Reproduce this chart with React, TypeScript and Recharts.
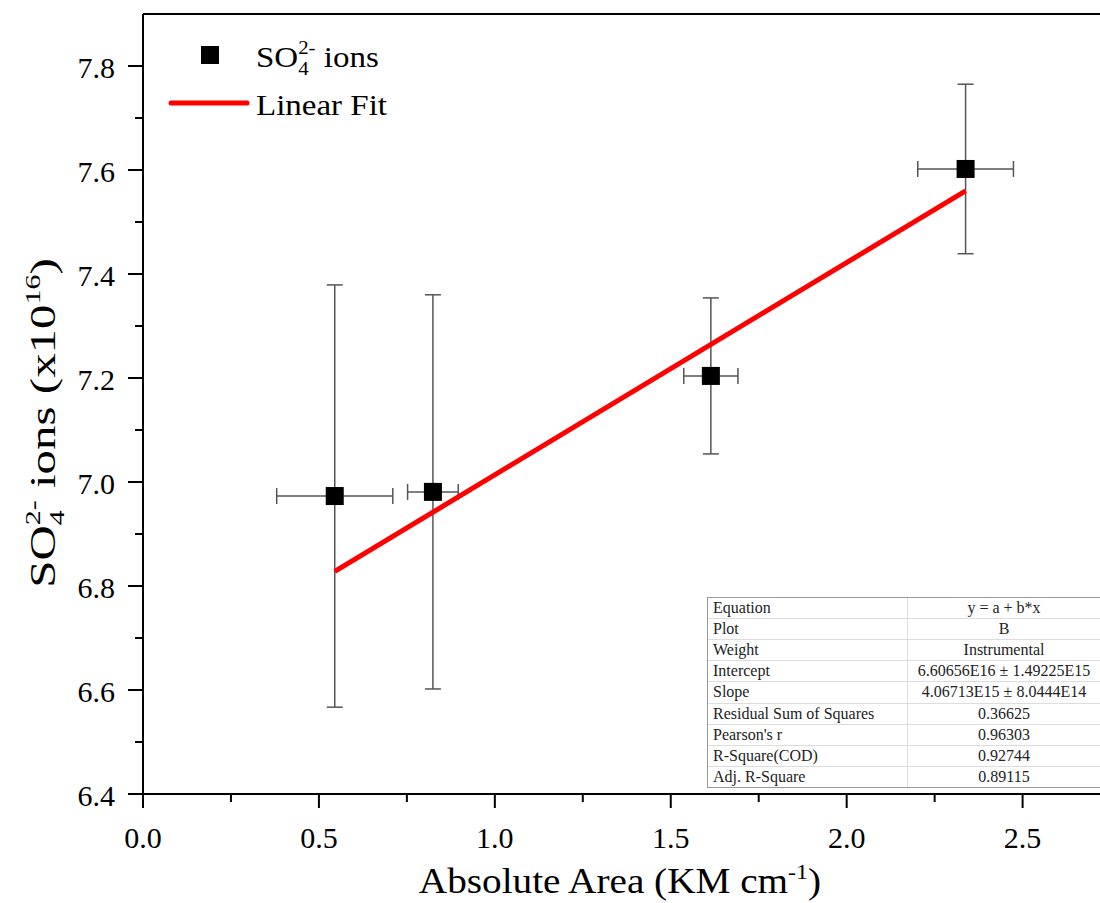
import React from 'react';
import { ScatterChart, Scatter, XAxis, YAxis, ErrorBar, ReferenceLine, Customized } from 'recharts';

// measured points (x = absolute area, y = ions x10^16)
const areaX = [0.545, 0.824, 1.614, 2.338];
const ionsY = [6.973, 6.981, 7.204, 7.602];
const areaErr = [0.165, 0.072, 0.077, 0.136];
const ionsErr = [0.406, 0.379, 0.15, 0.163];

// linear fit end points
const fitX = [0.545, 2.338];
const fitY = [6.828, 7.56];

const xMajor = [0, 0.5, 1, 1.5, 2, 2.5];
const xMinor = [0.25, 0.75, 1.25, 1.75, 2.25];
const yMajor = [6.4, 6.6, 6.8, 7.0, 7.2, 7.4, 7.6, 7.8];
const yMinor = [6.5, 6.7, 6.9, 7.1, 7.3, 7.5, 7.7];

const statNames = [
  'Equation',
  'Plot',
  'Weight',
  'Intercept',
  'Slope',
  'Residual Sum of Squares',
  "Pearson's r",
  'R-Square(COD)',
  'Adj. R-Square',
];
const statValues = [
  'y = a + b*x',
  'B',
  'Instrumental',
  '6.60656E16 ± 1.49225E15',
  '4.06713E15 ± 8.0444E14',
  '0.36625',
  '0.96303',
  '0.92744',
  '0.89115',
];

const FONT = '"Liberation Serif", "Times New Roman", serif';

const points = areaX.map((x, i) => ({ x, y: ionsY[i], ex: areaErr[i], ey: ionsErr[i] }));
const fitLine = fitX.map((x, i) => ({ x, y: fitY[i] }));

const xTicks = [...xMajor, ...xMinor].sort((a, b) => a - b);
const yTicks = [...yMajor, ...yMinor].sort((a, b) => a - b);

const XTick = (props: any) => {
  const { x, y, payload } = props;
  const major = xMajor.includes(payload.value);
  return (
    <g>
      <line x1={x} y1={y} x2={x} y2={y + (major ? 14 : 8)} stroke="#000" strokeWidth={2} />
      {major && (
        <text x={x} y={y + 43} textAnchor="middle" dominantBaseline="central" fontSize={30} fontFamily={FONT} fill="#000">
          {payload.value.toFixed(1)}
        </text>
      )}
    </g>
  );
};

const YTick = (props: any) => {
  const { x, y, payload } = props;
  const major = yMajor.includes(payload.value);
  return (
    <g>
      <line x1={x - (major ? 15 : 8)} y1={y} x2={x} y2={y} stroke="#000" strokeWidth={2} />
      {major && (
        <text x={x - 28} y={y + 1} textAnchor="end" dominantBaseline="central" fontSize={30} fontFamily={FONT} fill="#000">
          {payload.value.toFixed(1)}
        </text>
      )}
    </g>
  );
};

const Square = (props: any) => {
  const { cx, cy } = props;
  return <rect x={cx - 9} y={cy - 9} width={18} height={18} fill="#000" />;
};

const NoDot = () => <g />;

const Overlay = () => (
  <g fontFamily={FONT} fill="#000">
    {/* y axis title */}
    <text transform="translate(55, 423) rotate(-90) scale(1.36, 1)" textAnchor="middle" fontSize={36}>
      <tspan>SO</tspan>
      <tspan dy={9} fontSize={22}>4</tspan>
      <tspan dx={-11} dy={-24} fontSize={22}>2-</tspan>
      <tspan dy={15}> ions (x10</tspan>
      <tspan dy={-15} fontSize={22}>16</tspan>
      <tspan dy={15}>)</tspan>
    </text>
    {/* x axis title */}
    <text transform="translate(620, 893) scale(1.09, 1)" textAnchor="middle" fontSize={36}>
      <tspan>Absolute Area (KM cm</tspan>
      <tspan dy={-14} fontSize={22}>-1</tspan>
      <tspan dy={14}>)</tspan>
    </text>
    {/* legend */}
    <rect x={201} y={46} width={18} height={18} fill="#000" />
    <text transform="translate(256, 67) scale(1.1, 1)" fontSize={30}>
      <tspan>SO</tspan>
      <tspan dy={8} fontSize={19}>4</tspan>
      <tspan dx={-9.5} dy={-21} fontSize={19}>2-</tspan>
      <tspan dy={13}> ions</tspan>
    </text>
    <line x1={171} y1={103} x2={247} y2={103} stroke="#f00" strokeWidth={5} strokeLinecap="round" />
    <text transform="translate(256, 115) scale(1.1, 1)" fontSize={30}>
      Linear Fit
    </text>
  </g>
);

const StatsTable = () => (
  <div
    style={{
      position: 'absolute',
      left: 707,
      top: 597,
      width: 393,
      height: 191,
      boxSizing: 'border-box',
      border: '1px solid #999',
      borderRight: 'none',
      background: '#fff',
      fontFamily: FONT,
      fontSize: 16,
      color: '#222',
      display: 'flex',
      flexDirection: 'column',
    }}
  >
    {statNames.map((name, i) => (
      <div
        key={name}
        style={{
          display: 'flex',
          flex: 1,
          alignItems: 'center',
          borderTop: i ? '1px solid #ddd' : 'none',
        }}
      >
        <div style={{ width: 200, boxSizing: 'border-box', paddingLeft: 5, borderRight: '1px solid #ddd', height: '100%', display: 'flex', alignItems: 'center' }}>
          {name}
        </div>
        <div style={{ flex: 1, textAlign: 'center' }}>{statValues[i]}</div>
      </div>
    ))}
  </div>
);

export default function App() {
  return (
    <div style={{ position: 'absolute', left: 0, top: 0, width: 1100, height: 903, overflow: 'hidden', background: '#fff' }}>
      <ScatterChart width={1100} height={903} margin={{ top: 14, right: 0, left: 0, bottom: 0 }}>
        <XAxis
          type="number"
          dataKey="x"
          domain={[0, 2.72]}
          ticks={xTicks}
          interval={0}
          allowDataOverflow
          height={109}
          axisLine={{ stroke: '#000', strokeWidth: 2 }}
          tickLine={false}
          tickSize={0}
          tickMargin={0}
          tick={<XTick />}
        />
        <YAxis
          type="number"
          dataKey="y"
          domain={[6.4, 7.9]}
          ticks={yTicks}
          interval={0}
          allowDataOverflow
          width={143}
          axisLine={{ stroke: '#000', strokeWidth: 2 }}
          tickLine={false}
          tickSize={0}
          tickMargin={0}
          tick={<YTick />}
        />
        <ReferenceLine y={7.9} stroke="#000" strokeWidth={2} />
        <Scatter data={points} fill="#000" shape={Square} isAnimationActive={false}>
          <ErrorBar dataKey="ey" direction="y" width={8} stroke="#555" strokeWidth={1.5} isAnimationActive={false} />
          <ErrorBar dataKey="ex" direction="x" width={8} stroke="#555" strokeWidth={1.5} isAnimationActive={false} />
        </Scatter>
        <Scatter
          data={fitLine}
          line={{ stroke: '#f00', strokeWidth: 5 }}
          shape={NoDot}
          isAnimationActive={false}
        />
        <Customized component={Overlay} />
      </ScatterChart>
      <StatsTable />
    </div>
  );
}
